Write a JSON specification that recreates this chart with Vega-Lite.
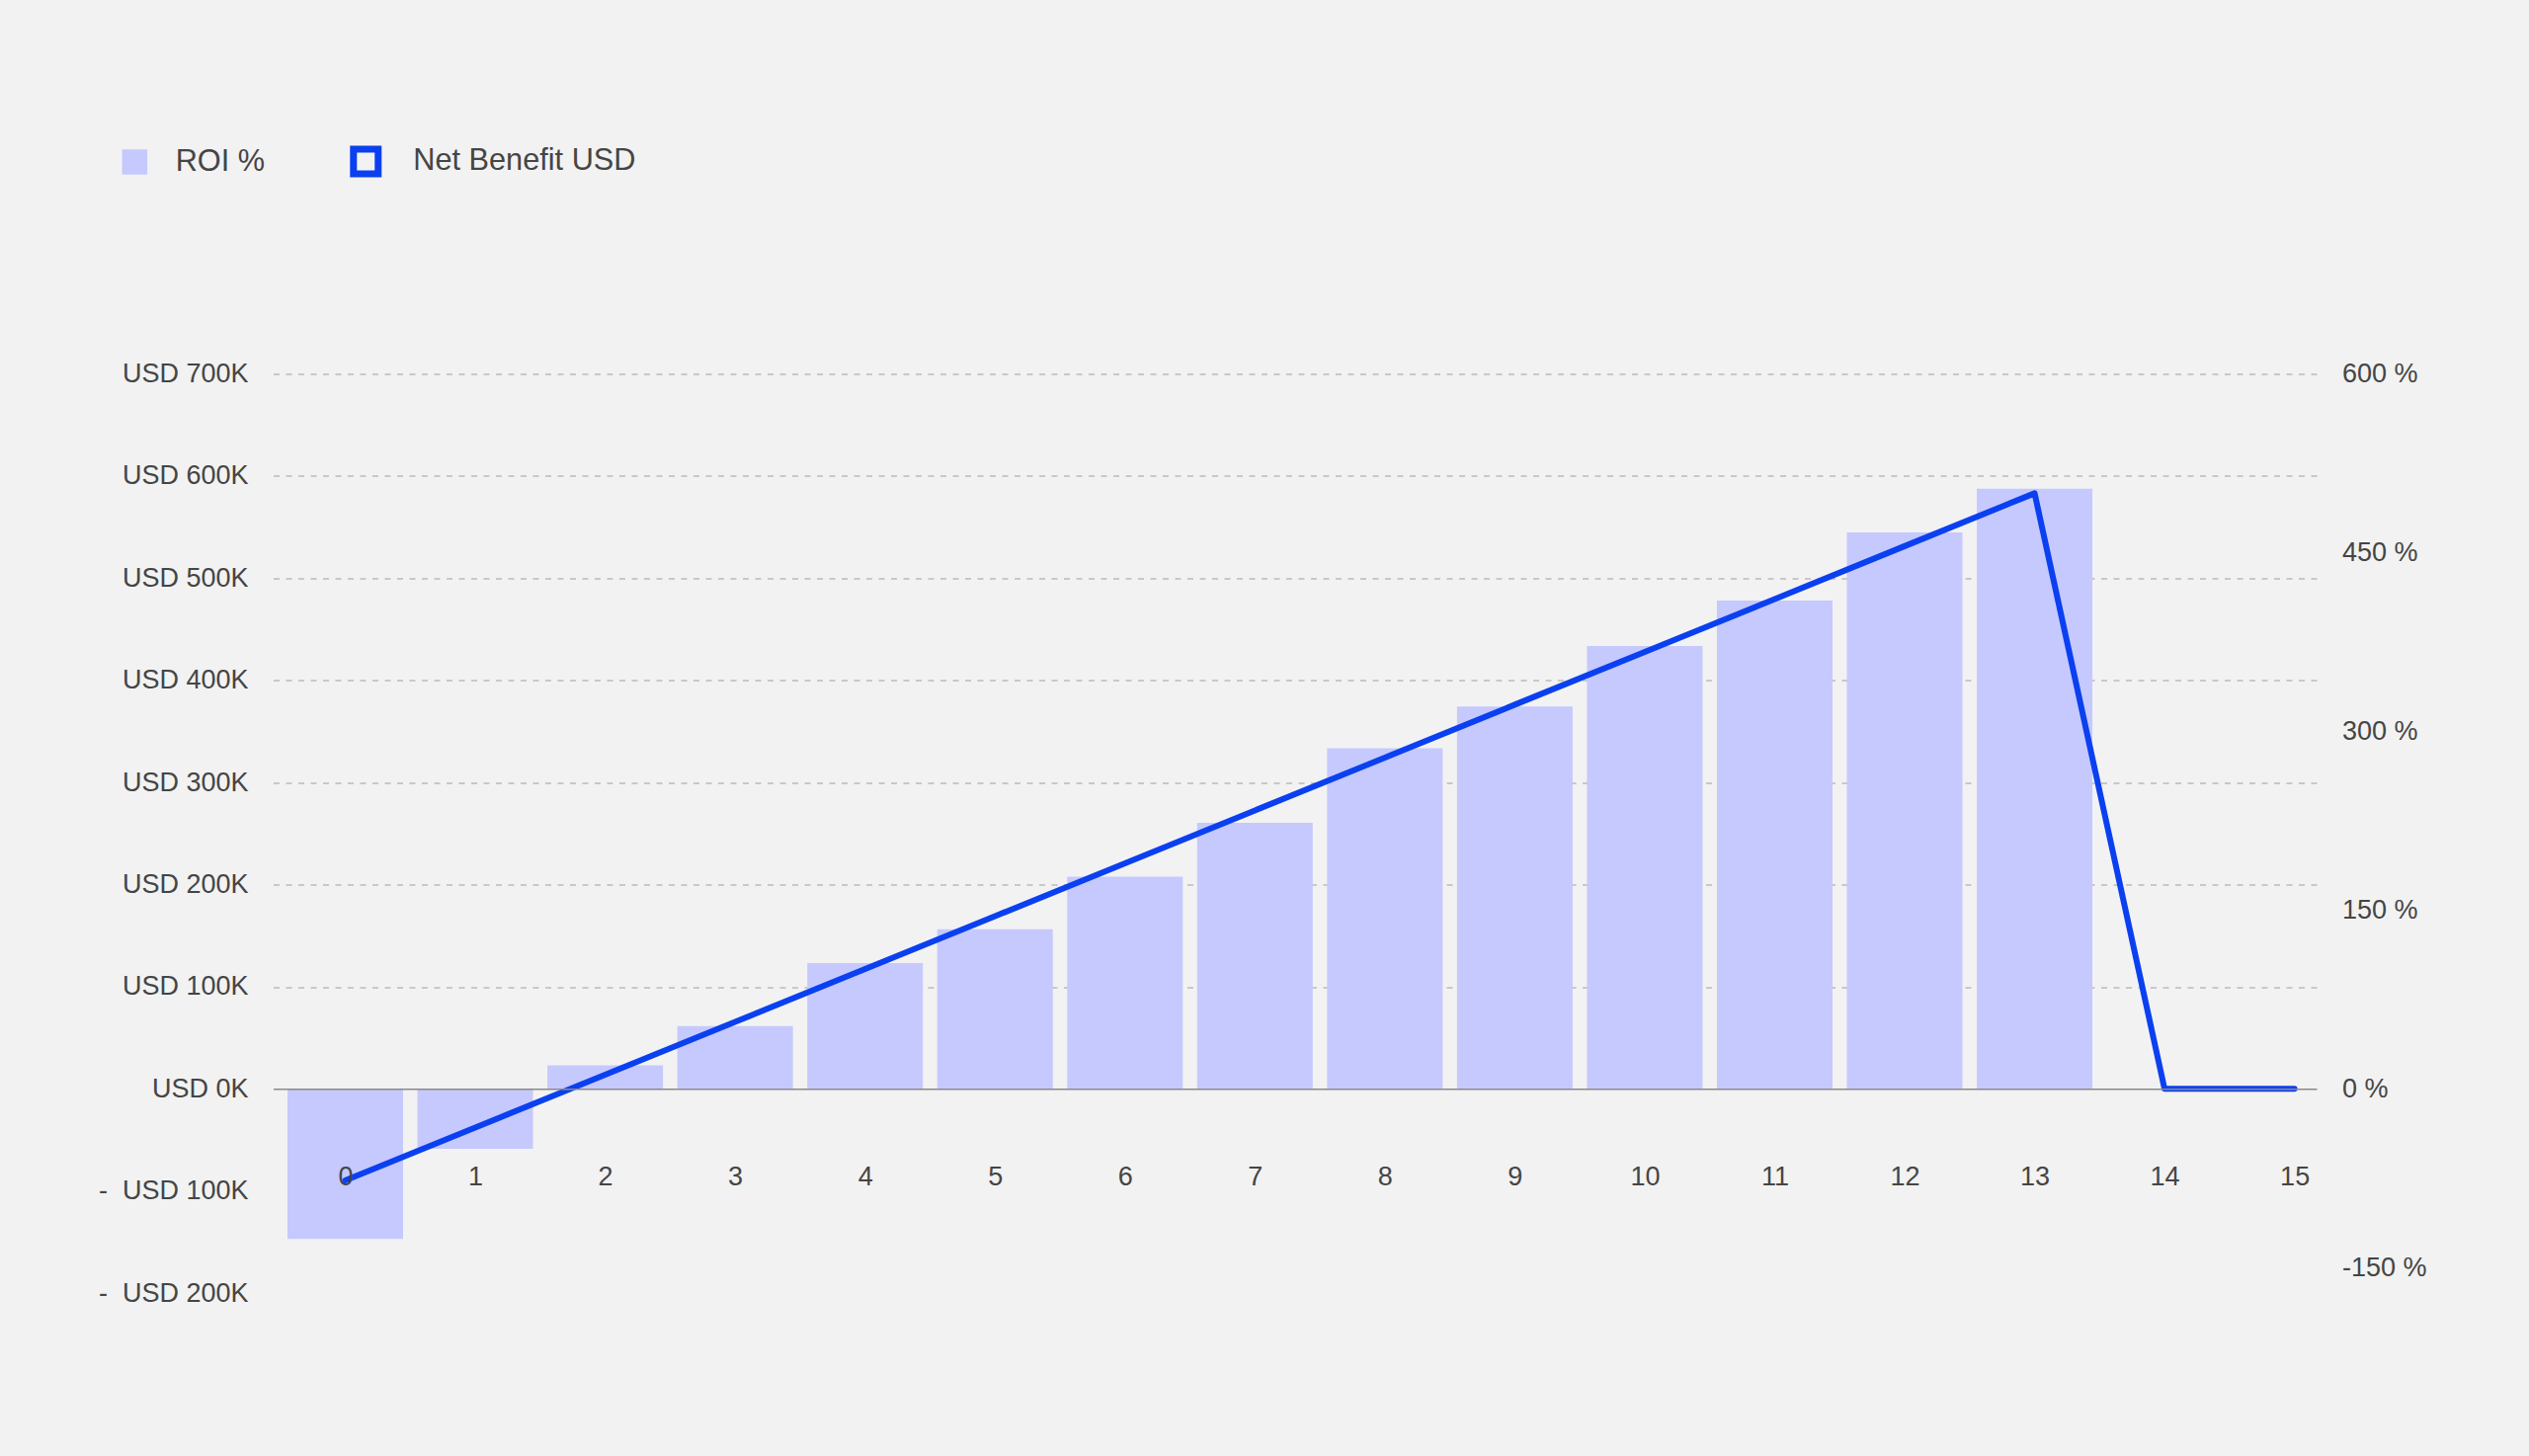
{
  "$schema": "https://vega.github.io/schema/vega-lite/v6.json",
  "autosize": {"type": "none"},
  "width": 2068.5,
  "height": 930.8,
  "padding": {"left": 276.5, "top": 378.4, "right": 215, "bottom": 164.8},
  "background": "#f2f2f2",
  "config": {
    "view": {"stroke": null},
    "font": "Liberation Sans",
    "axis": {"labelFont": "Liberation Sans", "labelFontSize": 27, "labelColor": "#454545"},
    "legend": {"labelFont": "Liberation Sans", "labelFontSize": 30.7, "labelColor": "#454545", "labelLimit": 600}
  },
  "data": {
    "values": [
      {"year": 0, "roi": -125.9, "net": -89600},
      {"year": 1, "roi": -50.2, "net": -37900},
      {"year": 2, "roi": 19.8, "net": 13900},
      {"year": 3, "roi": 52.8, "net": 65600},
      {"year": 4, "roi": 105.6, "net": 117400},
      {"year": 5, "roi": 134.0, "net": 169100},
      {"year": 6, "roi": 178.1, "net": 220800},
      {"year": 7, "roi": 223.3, "net": 272600},
      {"year": 8, "roi": 285.8, "net": 324300},
      {"year": 9, "roi": 320.8, "net": 376100},
      {"year": 10, "roi": 371.6, "net": 427800},
      {"year": 11, "roi": 409.7, "net": 479500},
      {"year": 12, "roi": 467.0, "net": 531300},
      {"year": 13, "roi": 503.6, "net": 583000},
      {"year": 14, "roi": 0, "net": 0},
      {"year": 15, "roi": 0, "net": 0}
    ]
  },
  "encoding": {
    "x": {
      "field": "year",
      "type": "quantitative",
      "title": null,
      "scale": {"domain": [-0.517, 15.132], "nice": false, "zero": false},
      "axis": {
        "values": [0, 1, 2, 3, 4, 5, 6, 7, 8, 9, 10, 11, 12, 13, 14, 15],
        "format": "d",
        "orient": "bottom",
        "offset": -207,
        "ticks": false,
        "grid": false,
        "domainColor": "#8a8a8a",
        "domainWidth": 1.5,
        "labelPadding": 76,
        "labelFlush": false,
        "labelOverlap": false,
        "zindex": 1
      }
    }
  },
  "layer": [
    {
      "mark": {"type": "bar", "width": 117, "color": "#c5c9fd"},
      "encoding": {
        "y": {
          "field": "roi",
          "type": "quantitative",
          "title": null,
          "scale": {"domain": [-171.43, 600], "nice": false},
          "axis": {
            "orient": "right",
            "values": [-150, 0, 150, 300, 450, 600],
            "labelExpr": "datum.value + ' %'",
            "grid": false,
            "ticks": false,
            "domain": false,
            "labelPadding": 25.5
          }
        },
        "fill": {
          "datum": "ROI %",
          "type": "nominal",
          "scale": {"range": ["#c5c9fd"]},
          "legend": {
            "orient": "none",
            "legendX": -155.5,
            "legendY": -229.8,
            "title": null,
            "padding": 0,
            "symbolType": "square",
            "symbolSize": 650,
            "symbolStrokeWidth": 0,
            "labelOffset": 26
          }
        }
      }
    },
    {
      "mark": {"type": "line", "strokeWidth": 6, "strokeJoin": "round", "strokeCap": "round"},
      "encoding": {
        "y": {
          "field": "net",
          "type": "quantitative",
          "title": null,
          "scale": {"domain": [-200000, 700000], "nice": false},
          "axis": {
            "orient": "left",
            "values": [-200000, -100000, 0, 100000, 200000, 300000, 400000, 500000, 600000, 700000],
            "labelExpr": "datum.value < 0 ? '-\u00a0\u00a0USD\u00a0' + (-datum.value / 1000) + 'K' : 'USD\u00a0' + (datum.value / 1000) + 'K'",
            "grid": true,
            "gridDash": [6, 6.5],
            "gridColor": "#bbbbbb",
            "gridWidth": 1.5,
            "gridOpacity": {"condition": {"test": "datum.value <= 0", "value": 0}, "value": 1},
            "ticks": false,
            "domain": false,
            "labelPadding": 25.5
          }
        },
        "stroke": {
          "datum": "Net Benefit USD",
          "type": "nominal",
          "scale": {"range": ["#0b40f0"]},
          "legend": {
            "orient": "none",
            "legendX": 77.8,
            "legendY": -231,
            "title": null,
            "padding": 0,
            "symbolType": "square",
            "symbolSize": 625,
            "symbolStrokeWidth": 7,
            "symbolFillColor": "transparent",
            "labelOffset": 32
          }
        }
      }
    }
  ],
  "resolve": {"scale": {"y": "independent"}, "axis": {"y": "independent"}}
}
